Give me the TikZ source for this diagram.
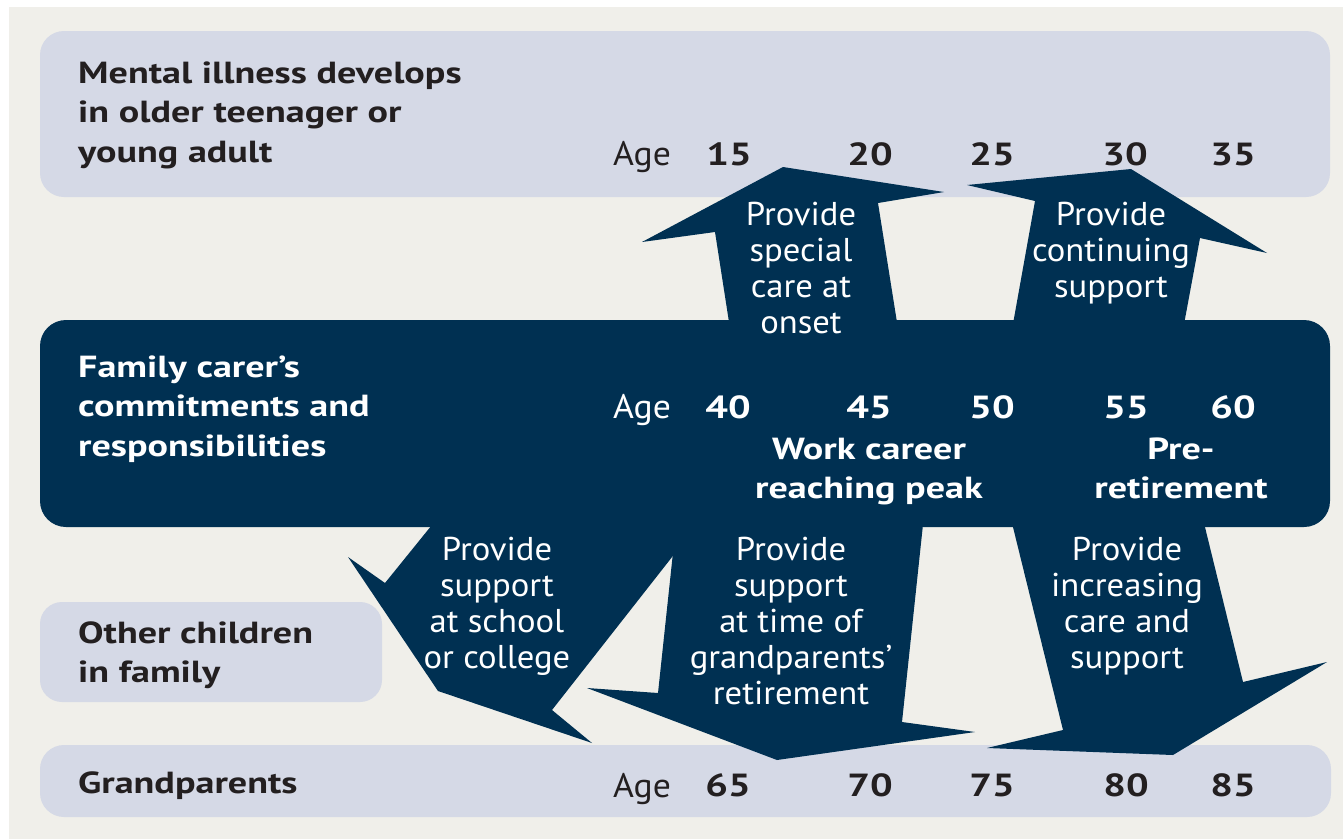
\documentclass[tikz,border=0pt]{standalone}
\usepackage{fontspec}
\setmainfont{PT Sans}[FakeStretch=1.05]
\newfontfamily\wideb{PT Sans}[FakeStretch=1.25]
\definecolor{bgc}{RGB}{240,239,234}
\definecolor{lightbox}{RGB}{213,217,230}
\definecolor{navy}{RGB}{0,48,82}
\definecolor{ink}{RGB}{35,31,32}
\newcommand{\stackl}[1]{\begin{tabular}[t]{@{}l@{}}#1\end{tabular}}
\newcommand{\stackc}[1]{\begin{tabular}[t]{@{}c@{}}#1\end{tabular}}
\begin{document}
\begin{tikzpicture}[x=1pt,y=-1pt,
  band/.style={fill=lightbox, rounded corners=24pt},
  darkband/.style={fill=navy, rounded corners=26pt},
  arrowshape/.style={fill=navy},
  lbl/.style={inner sep=0, anchor=base west, text=ink, font=\wideb\fontsize{30.5}{39.5}\selectfont\bfseries},
  lblw/.style={lbl, text=white},
  agelbl/.style={inner sep=0, anchor=base west, text=ink, font=\fontsize{34}{36}\selectfont},
  num/.style={inner sep=0, anchor=base, text=ink, font=\wideb\fontsize{32}{36}\selectfont\bfseries},
  atext/.style={inner sep=0, anchor=base, text=white, font=\fontsize{33}{36}\selectfont},
]
\useasboundingbox (0,0) rectangle (1343,839);
\fill[white] (0,0) rectangle (1343,839);
\fill[bgc] (9,7) rectangle (1343,839);

% bands
\fill[band] (40,31) rectangle (1330,197);
\fill[band, rounded corners=22pt] (40,602) rectangle (382,702);
\fill[band] (40,745) rectangle (1331,817);
\fill[darkband] (40,320) rectangle (1330,527);

% arrows
\fill[arrowshape] (731,335) -- (715,232) -- (642,242) -- (783,167) -- (944,192) -- (878,203) -- (899,335) -- cycle;
\fill[arrowshape] (1011,335) -- (1035,201) -- (967,185) -- (1131,169) -- (1267,253) -- (1200,238) -- (1182,335) -- cycle;
\fill[arrowshape] (440,515) -- (385,583) -- (348,557) -- (438,691) -- (592,743) -- (552,710) -- (705,515) -- cycle;
\fill[arrowshape] (677,515) -- (658,693) -- (587,688) -- (777,760) -- (975,732) -- (902,722) -- (924,515) -- cycle;
\fill[arrowshape] (1010,515) -- (1063,730) -- (987,748) -- (1173,755) -- (1327,662) -- (1243,682) -- (1202,515) -- cycle;

% left labels
\node[lbl] (lblIll) at (78,83) {\stackl{Mental illness develops\\in older teenager or\\young adult}};
\node[lblw] (lblCarer) at (78,377) {\stackl{Family carer’s\\commitments and\\responsibilities}};
\node[lbl, font=\wideb\fontsize{30.5}{39}\selectfont\bfseries] (lblKids) at (78,643) {\stackl{Other children\\in family}};
\node[lbl] (lblGP) at (78,793) {Grandparents};

% age rows
\node[agelbl] (ageTop) at (613,165) {Age};
\node[num] (a15) at (729,165) {15};
\node[num] (a20) at (870,165) {20};
\node[num] (a25) at (992,165) {25};
\node[num] (a30) at (1125,165) {30};
\node[num] (a35) at (1233,165) {35};

\node[agelbl, text=white] (ageMid) at (613,418) {Age};
\node[num, text=white] (a40) at (728,418) {40};
\node[num, text=white] (a45) at (869,418) {45};
\node[num, text=white] (a50) at (992,418) {50};
\node[num, text=white] (a55) at (1126,418) {55};
\node[num, text=white] (a60) at (1233,418) {60};

\node[agelbl] (ageBot) at (613,797) {Age};
\node[num] (a65) at (728,796) {65};
\node[num] (a70) at (870,796) {70};
\node[num] (a75) at (992,796) {75};
\node[num] (a80) at (1126,796) {80};
\node[num] (a85) at (1233,796) {85};

\node[lblw, anchor=base] (work) at (869,459) {\stackc{Work career\\reaching peak}};
\node[lblw, anchor=base] (pre) at (1181,459) {\stackc{Pre-\\retirement}};

% arrow texts
\node[atext] (tOnset) at (801,225) {\stackc{Provide\\special\\care at\\onset}};
\node[atext] (tCont) at (1111,225) {\stackc{Provide\\continuing\\support}};
\node[atext] (tSchool) at (497,560) {\stackc{Provide\\support\\at school\\or college}};
\node[atext] (tRetire) at (791,560) {\stackc{Provide\\support\\at time of\\grandparents’\\retirement}};
\node[atext] (tCare) at (1127,560) {\stackc{Provide\\increasing\\care and\\support}};
\end{tikzpicture}
\end{document}
